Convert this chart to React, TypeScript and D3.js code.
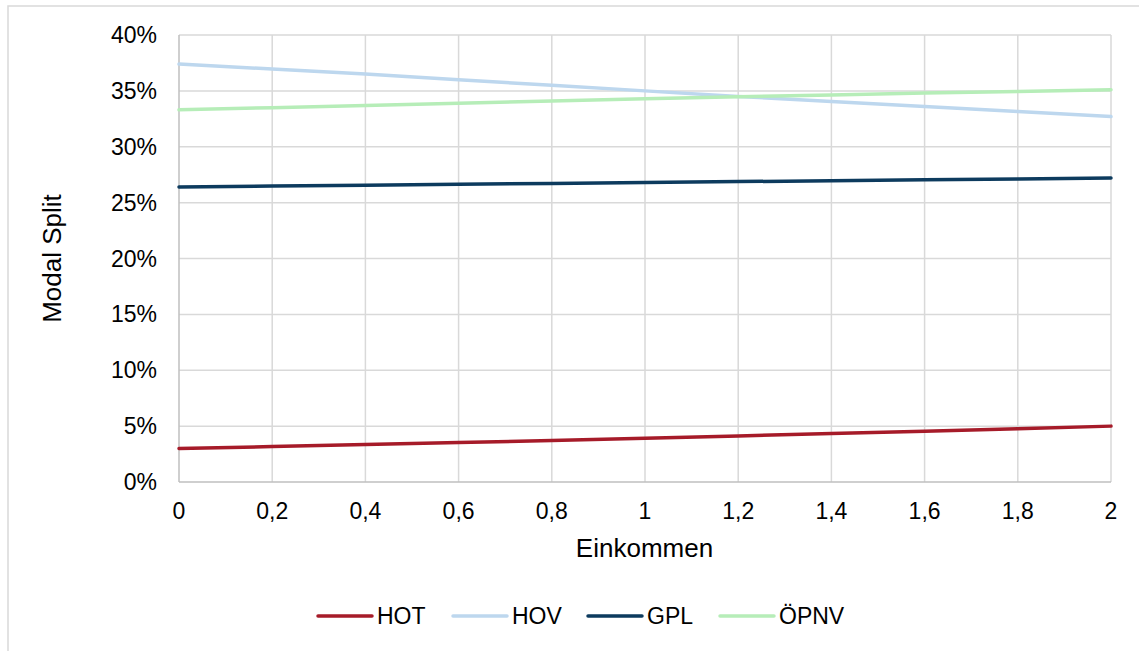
import React from 'react';
import * as d3 from 'd3';

const W = 1139;
const H = 651;

// Einkommen steps and modal split shares (%)
const incomes = [0, 0.2, 0.4, 0.6, 0.8, 1, 1.2, 1.4, 1.6, 1.8, 2];
const hot = [3.0, 3.17, 3.35, 3.53, 3.72, 3.92, 4.12, 4.33, 4.55, 4.77, 5.0];
const hov = [37.4, 36.95, 36.5, 36.0, 35.5, 35.0, 34.5, 34.05, 33.6, 33.15, 32.7];
const gpl = [26.4, 26.48, 26.56, 26.64, 26.72, 26.8, 26.88, 26.96, 27.04, 27.12, 27.2];
const opnv = [33.3, 33.5, 33.7, 33.9, 34.1, 34.3, 34.48, 34.64, 34.8, 34.95, 35.1];

const seriesNames = ['HOT', 'HOV', 'GPL', 'ÖPNV'];
const seriesColors = ['#a61b29', '#bdd7ee', '#0d3b5e', '#b6edb8'];
const seriesValues = [hot, hov, gpl, opnv];

const xTicks = [0, 0.2, 0.4, 0.6, 0.8, 1, 1.2, 1.4, 1.6, 1.8, 2];
const yTicks = [0, 5, 10, 15, 20, 25, 30, 35, 40];

const font = '"Liberation Sans", Arial, sans-serif';

export default function App() {
  const x = d3.scaleLinear().domain([0, 2]).range([179, 1111]);
  const y = d3.scaleLinear().domain([0, 40]).range([482, 35]);
  const line = d3.line<number>()
    .x((_, i) => x(incomes[i]))
    .y(d => y(d));
  const fmt = (v: number) => String(v).replace('.', ',');

  // legend swatch start positions
  const legendX = [318, 453, 588, 720];
  const legendY = 616;

  return (
    <svg width={W} height={H} style={{ position: 'absolute', left: 0, top: 0 }} fontFamily={font}>
      <rect x={0} y={0} width={W} height={H} fill="#fff" />
      <rect x={8} y={6} width={W - 2} height={H + 10} fill="none" stroke="#d9d9d9" strokeWidth={1.5} />

      {/* grid */}
      {yTicks.slice(1).map(t => (
        <line key={'gy' + t} x1={x(0)} x2={x(2)} y1={y(t)} y2={y(t)} stroke="#d9d9d9" strokeWidth={1.5} />
      ))}
      {xTicks.slice(1).map(t => (
        <line key={'gx' + t} x1={x(t)} x2={x(t)} y1={y(0)} y2={y(40)} stroke="#d9d9d9" strokeWidth={1.5} />
      ))}
      <line x1={x(0)} x2={x(0)} y1={y(0)} y2={y(40)} stroke="#bfbfbf" strokeWidth={1.5} />
      <line x1={x(0)} x2={x(2)} y1={y(0)} y2={y(0)} stroke="#bfbfbf" strokeWidth={1.5} />

      {/* tick labels */}
      {yTicks.map(t => (
        <text key={'ty' + t} x={157} y={y(t)} dy="0.35em" textAnchor="end" fontSize={23} fill="#000">{t}%</text>
      ))}
      {xTicks.map(t => (
        <text key={'tx' + t} x={x(t)} y={519} textAnchor="middle" fontSize={23} fill="#000">{fmt(t)}</text>
      ))}

      {/* axis titles */}
      <text x={644.5} y={557} textAnchor="middle" fontSize={26} fill="#000">Einkommen</text>
      <text transform={`translate(61,${y(20)}) rotate(-90)`} textAnchor="middle" fontSize={26} fill="#000">Modal Split</text>

      {/* series */}
      {seriesValues.map((vals, i) => (
        <path key={seriesNames[i]} d={line(vals) || ''} fill="none" stroke={seriesColors[i]} strokeWidth={3.5} strokeLinecap="round" />
      ))}

      {/* legend */}
      {seriesNames.map((n, i) => (
        <g key={'lg' + n}>
          <line x1={legendX[i]} x2={legendX[i] + 54} y1={legendY} y2={legendY} stroke={seriesColors[i]} strokeWidth={3.5} strokeLinecap="round" />
          <text x={legendX[i] + 59} y={legendY + 8} fontSize={23} fill="#000">{n}</text>
        </g>
      ))}
    </svg>
  );
}
